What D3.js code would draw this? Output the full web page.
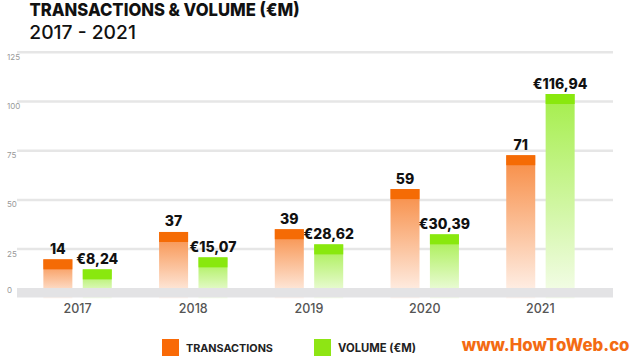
<!DOCTYPE html>
<html><head><meta charset="utf-8">
<script src="https://cdn.jsdelivr.net/npm/d3@7"></script>
<style>html,body{margin:0;padding:0;background:#fff;} svg{display:block;}</style>
</head><body>
<svg id="c" width="640" height="360"></svg>
<script>
const years = ["2017", "2018", "2019", "2020", "2021"];
const transactions = [14, 37, 39, 59, 71];
const volume = [8.24, 15.07, 28.62, 30.39, 116.94];
// bar heights as drawn against the axis (the graphic is not drawn to scale)
const transactionsBar = [19.8, 33.7, 35.1, 55.5, 72.7];
const volumeBar = [14.7, 20.8, 27.4, 32.5, 103.8];
const yTicks = [0, 25, 50, 75, 100, 125];
const seriesNames = ["TRANSACTIONS", "VOLUME (€M)"];
const titleText = "TRANSACTIONS & VOLUME (€M)";
const subtitleText = "2017 - 2021";
const creditText = "www.HowToWeb.co";

const FONT = "Inter, 'Open Sans', sans-serif";
const svg = d3.select("#c");
svg.append("rect").attr("width", 640).attr("height", 360).attr("fill", "#fff");

function fit(sel, w, n) {
  const node = sel.node();
  const fs = parseFloat(sel.attr("font-size"));
  const cur = n ? node.getSubStringLength(0, n) : node.getComputedTextLength();
  if (cur > 0) sel.attr("font-size", fs * w / cur);
  return sel;
}

const y = d3.scaleLinear().domain([0, 125]).range([298.3, 52.3]);
const x = d3.scaleBand().domain(years).range([19.7, 598.3]).padding(0);
const xs = d3.scaleBand().domain(["t", "v"]).range([-34.2, 34.2]).paddingInner(0.264);
const gridX0 = 17, gridX1 = 613;

// defs: gradients
const defs = svg.append("defs");
function grad(id, c0, c1) {
  const g = defs.append("linearGradient").attr("id", id).attr("x1", 0).attr("y1", 0).attr("x2", 0).attr("y2", 1);
  g.append("stop").attr("offset", "0%").attr("stop-color", c0);
  g.append("stop").attr("offset", "100%").attr("stop-color", c1);
}
grad("gT", "#f78b42", "#fff4ee");
grad("gV", "#a4ee4a", "#f5fdeb");

// gridlines
svg.append("g").selectAll("line").data(yTicks.filter(t => t > 0)).join("line")
  .attr("x1", gridX0).attr("x2", gridX1)
  .attr("y1", d => y(d)).attr("y2", d => y(d))
  .attr("stroke", "#e6e6e6").attr("stroke-width", 2.5);

// tick labels
svg.append("g").selectAll("text").data(yTicks).join("text")
  .attr("x", 7).attr("y", d => d === 0 ? y(0) - 5.5 : y(d) + 7.5)
  .attr("font-family", FONT).attr("font-size", 8).attr("fill", "#999")
  .text(d => d);

const series = [
  {key: "t", bars: transactionsBar, labels: transactions.map(v => String(v)), cap: "#f56b05", fill: "url(#gT)"},
  {key: "v", bars: volumeBar, labels: volume.map(v => "€" + d3.format(".2f")(v).replace(".", ",")), cap: "#89e80e", fill: "url(#gV)"}
];

const bars = svg.append("g");
series.forEach(s => {
  const g = bars.append("g");
  const data = years.map((yr, i) => ({yr, v: s.bars[i], lab: s.labels[i]}));
  g.selectAll("rect.body").data(data).join("rect").attr("class", "body")
    .attr("x", d => x(d.yr) + x.bandwidth() / 2 + xs(s.key))
    .attr("width", xs.bandwidth())
    .attr("y", d => y(d.v)).attr("height", d => y(0) - y(d.v))
    .attr("fill", s.fill);
  g.selectAll("rect.cap").data(data).join("rect").attr("class", "cap")
    .attr("x", d => x(d.yr) + x.bandwidth() / 2 + xs(s.key))
    .attr("width", xs.bandwidth())
    .attr("y", d => y(d.v)).attr("height", d => Math.min(10, y(0) - y(d.v)))
    .attr("fill", s.cap);
  g.selectAll("text").data(data).join("text")
    .attr("x", d => x(d.yr) + x.bandwidth() / 2 + xs(s.key) + xs.bandwidth() / 2)
    .attr("y", d => y(d.v) - 5.5)
    .attr("text-anchor", "middle")
    .attr("font-family", FONT).attr("font-weight", 800).attr("font-size", 14).attr("fill", "#111")
    .text(d => d.lab);
});

// base band
svg.append("rect").attr("x", gridX0).attr("width", gridX1 - gridX0)
  .attr("y", y(0) - 10.3).attr("height", 9.5).attr("fill", "#e3e3e5");

// category labels
svg.append("g").selectAll("text").data(years).join("text")
  .attr("x", d => x(d) + x.bandwidth() / 2).attr("y", 313)
  .attr("text-anchor", "middle")
  .attr("font-family", FONT).attr("font-weight", 500).attr("font-size", 12.5).attr("fill", "#555")
  .text(d => d);

// title
svg.append("text").attr("x", 29.5).attr("y", 16.3)
  .attr("font-family", FONT).attr("font-weight", 800).attr("font-size", 18).attr("fill", "#111")
  .attr("textLength", 270).attr("lengthAdjust", "spacingAndGlyphs")
  .text(titleText);
const t2 = svg.append("text").attr("x", 29.3).attr("y", 39.3)
  .attr("font-family", FONT).attr("font-weight", 500).attr("font-size", 18.5).attr("fill", "#111")
  .text(subtitleText);
fit(t2, 106.7);

// legend
const legendCols = ["#f96a07", "#8ee514"];
const legendX = [162, 314];
const legendW = [87, 78];
seriesNames.forEach((n, i) => {
  svg.append("rect").attr("x", legendX[i]).attr("y", 339).attr("width", 17).attr("height", 17).attr("fill", legendCols[i]);
  const t = svg.append("text").attr("x", legendX[i] + 24).attr("y", 352.3)
    .attr("font-family", FONT).attr("font-weight", 700).attr("font-size", 11).attr("fill", "#222")
    .text(n);
  fit(t, legendW[i]);
});
const cr = svg.append("text").attr("x", 461.7).attr("y", 350.7)
  .attr("font-family", FONT).attr("font-weight", 800).attr("font-size", 15).attr("fill", "#f36b12")
  .text(creditText);
fit(cr, 168);
</script>
</body></html>
